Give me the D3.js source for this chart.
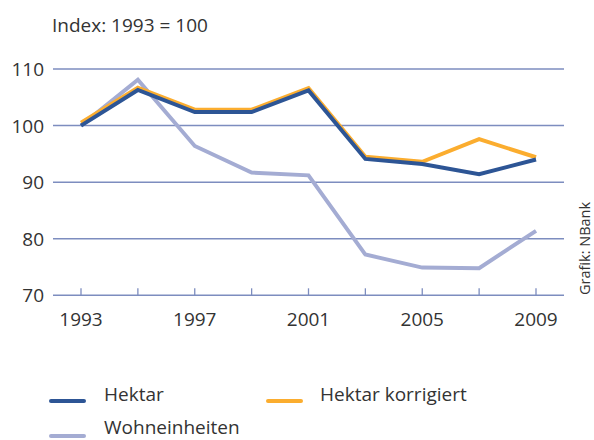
<!DOCTYPE html>
<html>
<head>
<meta charset="utf-8">
<script src="https://cdn.jsdelivr.net/npm/d3@7"></script>
<style>
  body { margin: 0; background: #fff; }
  svg { font-family: "Open Sans", "Noto Sans", sans-serif; }
</style>
</head>
<body>
<svg width="594" height="440"></svg>
<script>
// data
var years = [1993, 1995, 1997, 1999, 2001, 2003, 2005, 2007, 2009];
var hektar = [100, 106.3, 102.4, 102.4, 106.2, 94.1, 93.2, 91.4, 94.0];
var hektarKorr = [100.5, 106.7, 102.8, 102.8, 106.6, 94.5, 93.6, 97.6, 94.4];
var wohneinheiten = [100, 108.1, 96.4, 91.7, 91.2, 77.2, 74.9, 74.8, 81.4];
var yTicks = [70, 80, 90, 100, 110];
var xLabels = [1993, 1997, 2001, 2005, 2009];

var series = [
  { name: "Wohneinheiten", values: wohneinheiten, color: "#a4acd3" },
  { name: "Hektar korrigiert", values: hektarKorr, color: "#fbad2f" },
  { name: "Hektar", values: hektar, color: "#2d5595" }
];

var svg = d3.select("svg");
var textColor = "#333";
var gridColor = "#7d8dbf";

var x = d3.scaleLinear().domain([1993, 2009]).range([81, 536]);
var y = d3.scaleLinear().domain([70, 110]).range([295.3, 69]);

// grid lines
svg.append("g").selectAll("line")
  .data(yTicks)
  .enter()
  .append("line")
  .attr("x1", 53)
  .attr("x2", 564)
  .attr("y1", d => y(d))
  .attr("y2", d => y(d))
  .attr("stroke", gridColor)
  .attr("stroke-width", 1.5);

// y labels
svg.append("g").selectAll("text")
  .data(yTicks)
  .enter()
  .append("text")
  .attr("x", 44)
  .attr("y", d => y(d) + 7)
  .attr("text-anchor", "end")
  .attr("font-size", 19)
  .attr("fill", textColor)
  .text(d => d);

// x ticks (pointing up from the bottom line)
svg.append("g").selectAll("line")
  .data(years)
  .enter()
  .append("line")
  .attr("x1", d => x(d))
  .attr("x2", d => x(d))
  .attr("y1", y(70))
  .attr("y2", y(70) - 7)
  .attr("stroke", gridColor)
  .attr("stroke-width", 1.3);

svg.append("g").selectAll("text")
  .data(xLabels)
  .enter()
  .append("text")
  .attr("x", d => x(d))
  .attr("y", 326)
  .attr("text-anchor", "middle")
  .attr("font-size", 19)
  .attr("fill", textColor)
  .text(d => d);

svg.append("text")
  .attr("x", 52)
  .attr("y", 32)
  .attr("font-size", 19)
  .attr("fill", textColor)
  .text("Index: 1993 = 100");

var line = d3.line()
  .x((d, i) => x(years[i]))
  .y(d => y(d));

svg.append("g").selectAll("path")
  .data(series)
  .enter()
  .append("path")
  .attr("d", d => line(d.values))
  .attr("fill", "none")
  .attr("stroke", d => d.color)
  .attr("stroke-width", 4)
  .attr("stroke-linejoin", "miter");

// source note
svg.append("text")
  .attr("transform", "translate(590,295) rotate(-90)")
  .attr("font-size", 14.5)
  .attr("fill", textColor)
  .text("Grafik: NBank");

// legend
var legend = [
  { name: "Hektar", color: "#2d5595", lx: 51, ly: 401, tx: 104, ty: 401 },
  { name: "Hektar korrigiert", color: "#fbad2f", lx: 268, ly: 401, tx: 320, ty: 401 },
  { name: "Wohneinheiten", color: "#a4acd3", lx: 51, ly: 436, tx: 104, ty: 434 }
];

var lg = svg.append("g").selectAll("g")
  .data(legend)
  .enter()
  .append("g");

lg.append("line")
  .attr("x1", d => d.lx)
  .attr("x2", d => d.lx + 33)
  .attr("y1", d => d.ly)
  .attr("y2", d => d.ly)
  .attr("stroke", d => d.color)
  .attr("stroke-width", 4)
  .attr("stroke-linecap", "round");

lg.append("text")
  .attr("x", d => d.tx)
  .attr("y", d => d.ty)
  .attr("font-size", 19)
  .attr("fill", textColor)
  .text(d => d.name);
</script>
</body>
</html>
